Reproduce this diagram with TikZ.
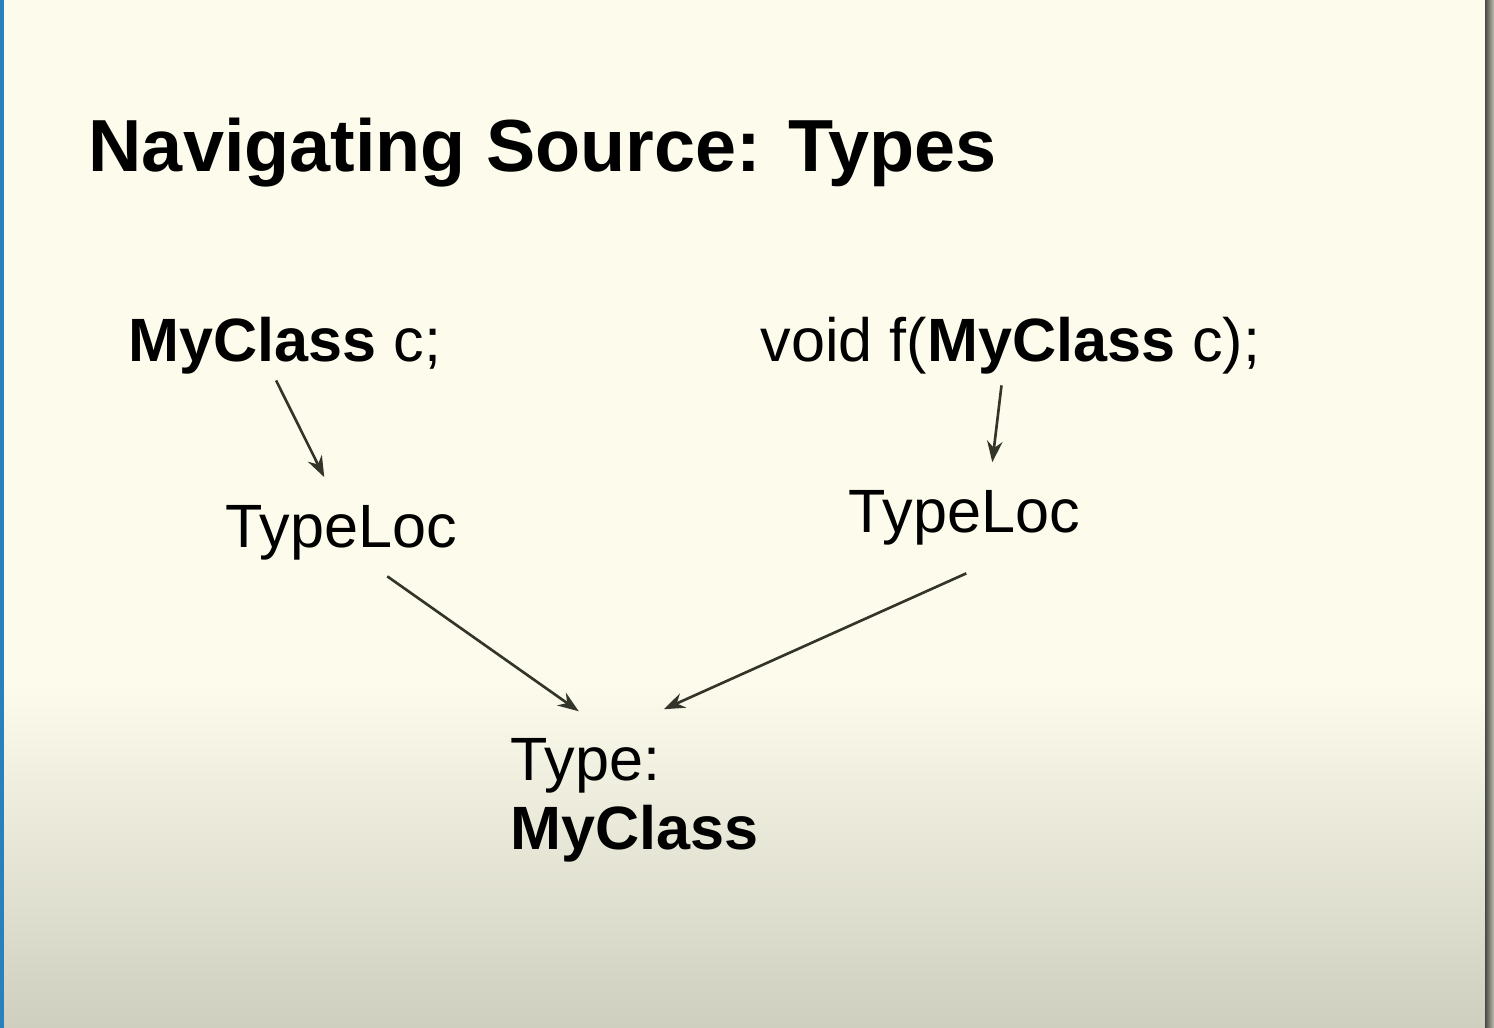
\documentclass[tikz,border=0pt]{standalone}
\usepackage{fontspec}
\setmainfont{Liberation Sans}
\usetikzlibrary{arrows.meta}
\definecolor{slide}{HTML}{FDFCEC}
\definecolor{slidelow}{HTML}{CFCFBF}
\definecolor{edgeblue}{HTML}{2A80B9}
\definecolor{arrowcol}{HTML}{33342A}
\begin{document}
\begin{tikzpicture}[
  txt/.style={inner sep=0pt,anchor=base west,font=\fontsize{17.4}{19.9}\selectfont},
  ttl/.style={inner sep=0pt,anchor=base west,font=\fontsize{21}{25}\selectfont\bfseries},
  arr/.style={draw=arrowcol,line width=0.75pt,-{Stealth[length=6pt,width=4.4pt]}}]
\useasboundingbox (0,0) rectangle (14.94,10.28);
\fill[slide] (0,0) rectangle (14.94,10.28); %background
\shade[top color=slide,bottom color=slidelow] (0,0) rectangle (14.94,3.46);
\fill[edgeblue] (0,0) rectangle (0.035,10.28); %left edge
\shade[left color=black!65!slidelow,right color=slidelow!80!gray] (14.85,0) rectangle (14.94,10.28); %right edge
\node[ttl] (title) at (0.88,8.56) {Navigating Source: Types};
\node[txt] (decl) at (1.28,6.66) {\textbf{MyClass} c;};
\node[txt] (func) at (7.60,6.66) {void f(\textbf{MyClass} c);};
\node[txt] (locl) at (2.25,4.80) {TypeLoc};
\node[txt] (locr) at (8.48,4.95) {TypeLoc};
\node[txt,align=left] (type) at (5.10,1.78) {Type:\\\textbf{MyClass}};
\draw[arr] ([shift={(-0.09,-0.05)}]decl.south) -- ([shift={(-0.17,0.28)}]locl.north);
\draw[arr] ([shift={(-0.09,-0.10)}]func.south) -- ([shift={(0.28,0.28)}]locr.north);
\draw[arr] ([shift={(0.46,-0.15)}]locl.south) -- ([shift={(-0.56,0.26)}]type.north);
\draw[arr] ([shift={(0.02,-0.27)}]locr.south) -- ([shift={(0.29,0.28)}]type.north);
\end{tikzpicture}
\end{document}
